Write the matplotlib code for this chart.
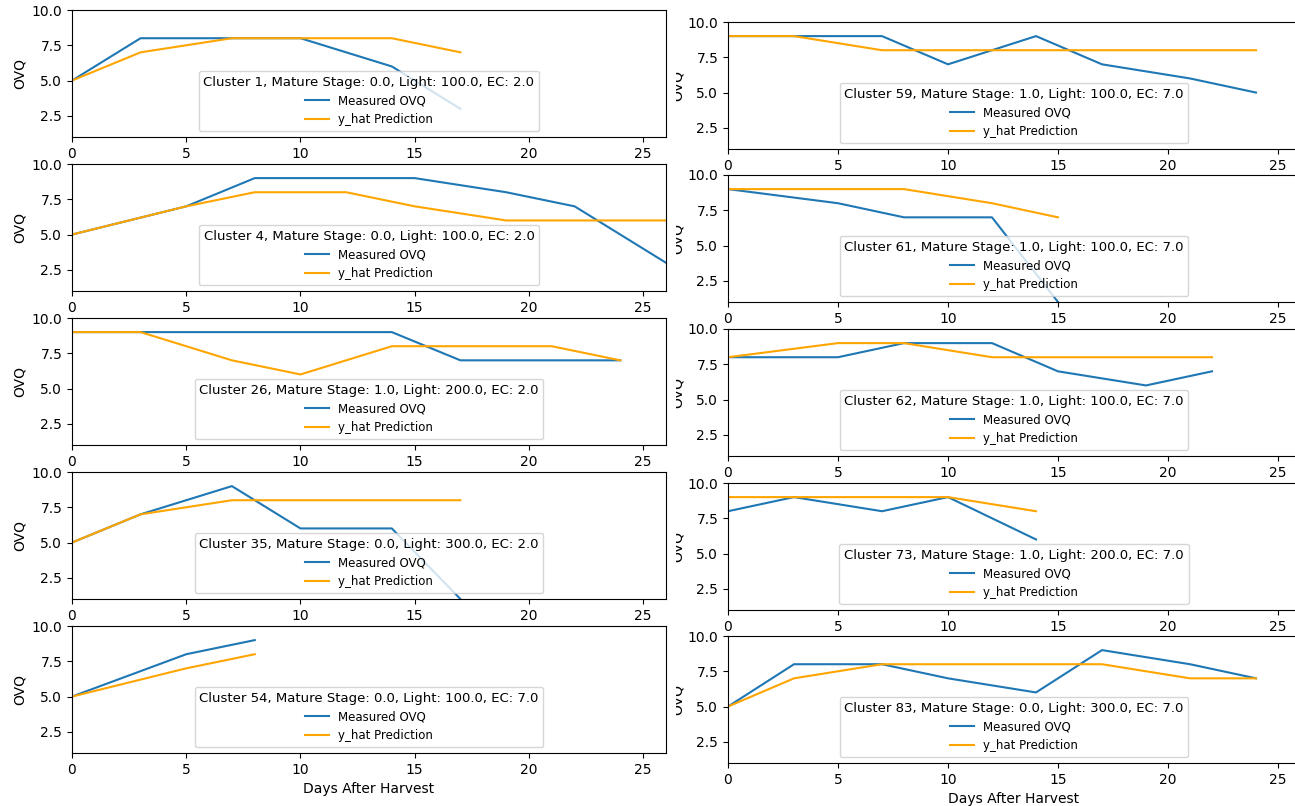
import matplotlib
matplotlib.use("Agg")
import matplotlib.pyplot as plt
from matplotlib.transforms import Bbox, TransformedBbox

# Per-cluster storage trials: days after harvest, measured OVQ and model prediction
cluster_ids = [1, 4, 26, 35, 54, 59, 61, 62, 73, 83]
mature_stage = [0.0, 0.0, 1.0, 0.0, 0.0, 1.0, 1.0, 1.0, 1.0, 0.0]
light = [100.0, 100.0, 200.0, 300.0, 100.0, 100.0, 100.0, 100.0, 200.0, 300.0]
ec = [2.0, 2.0, 2.0, 2.0, 7.0, 7.0, 7.0, 7.0, 7.0, 7.0]

days = [
    [0, 3, 7, 10, 14, 17],
    [0, 5, 8, 12, 15, 19, 22, 26],
    [0, 3, 7, 10, 14, 17, 21, 24],
    [0, 3, 7, 10, 14, 17],
    [0, 5, 8],
    [0, 3, 7, 10, 14, 17, 21, 24],
    [0, 5, 8, 12, 15],
    [0, 5, 8, 12, 15, 19, 22],
    [0, 3, 7, 10, 14],
    [0, 3, 7, 10, 14, 17, 21, 24],
]
measured_ovq = [
    [5, 8, 8, 8, 6, 3],
    [5, 7, 9, 9, 9, 8, 7, 3],
    [9, 9, 9, 9, 9, 7, 7, 7],
    [5, 7, 9, 6, 6, 1],
    [5, 8, 9],
    [9, 9, 9, 7, 9, 7, 6, 5],
    [9, 8, 7, 7, 1],
    [8, 8, 9, 9, 7, 6, 7],
    [8, 9, 8, 9, 6],
    [5, 8, 8, 7, 6, 9, 8, 7],
]
predicted_ovq = [
    [5, 7, 8, 8, 8, 7],
    [5, 7, 8, 8, 7, 6, 6, 6],
    [9, 9, 7, 6, 8, 8, 8, 7],
    [5, 7, 8, 8, 8, 8],
    [5, 7, 8],
    [9, 9, 8, 8, 8, 8, 8, 8],
    [9, 9, 9, 8, 7],
    [8, 9, 9, 8, 8, 8, 8],
    [9, 9, 9, 9, 8],
    [5, 7, 8, 8, 8, 8, 7, 7],
]

W, H = 1295, 806
fig = plt.figure(figsize=(W / 100, H / 100), dpi=100)

# panel placement in pixels: (left, right, tops) per column, five rows each
left_tops = [10, 164, 318, 472, 626]
right_tops = [22, 175, 329, 483, 636]
panel_h = 127
columns = [(72, 666, left_tops), (728, 1300, right_tops)]

axes = []
for col, (x0, x1, tops) in enumerate(columns):
    for row, top in enumerate(tops):
        ax = fig.add_axes([x0 / W, 1 - (top + panel_h) / H, (x1 - x0) / W, panel_h / H])
        axes.append((col, row, ax))

for i, (col, row, ax) in enumerate(axes):
    ax.plot(days[i], measured_ovq[i], color="#1f77b4", label="Measured OVQ")
    ax.plot(days[i], predicted_ovq[i], color="orange", label="y_hat Prediction")
    ax.set_xlim(0, 26)
    ax.set_ylim(1, 10)
    ax.set_yticks([2.5, 5.0, 7.5, 10.0])
    ax.set_ylabel("OVQ")
    ax.yaxis.set_label_coords(-0.076, 0.5)
    title = (f"Cluster {cluster_ids[i]}, Mature Stage: {mature_stage[i]}, "
             f"Light: {light[i]}, EC: {ec[i]}")
    ax.legend(loc="lower center", title=title, fontsize=8.5, title_fontsize=9.5)
    if row == 4:
        ax.set_xlabel("Days After Harvest")
    if col == 1:
        lab = ax.yaxis.label
        lab.set_clip_on(True)
        lab.set_clip_box(TransformedBbox(Bbox([[676 / W, 0], [1, 1]]), fig.transFigure))

fig.savefig("out.png", dpi=100)
